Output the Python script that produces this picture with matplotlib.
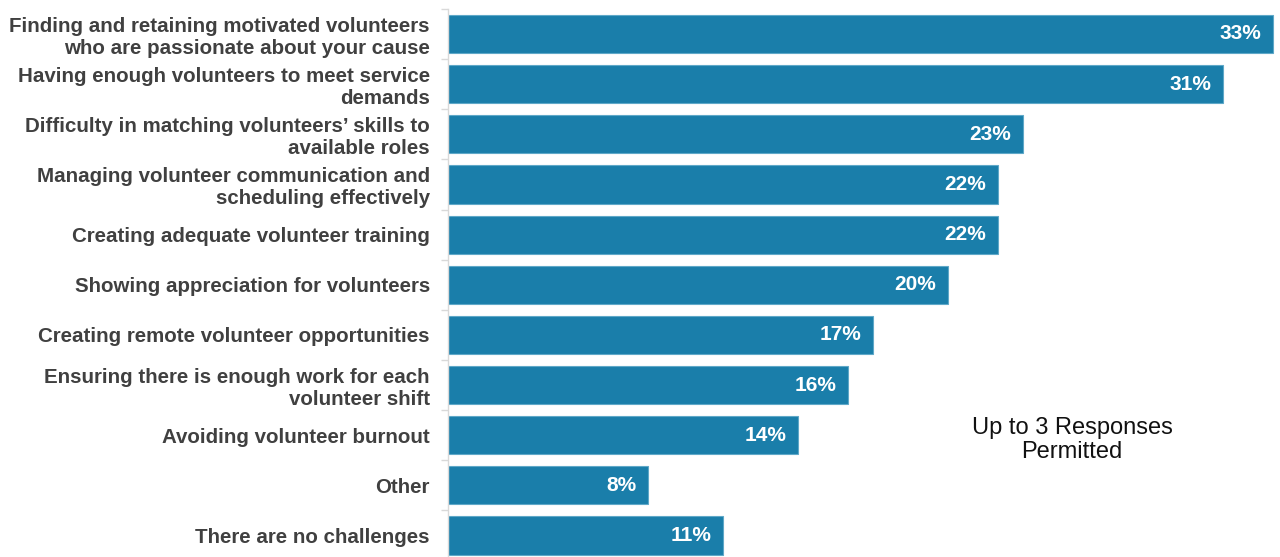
import matplotlib.pyplot as plt
import numpy as np

categories = [
    "Finding and retaining motivated volunteers\nwho are passionate about your cause",
    "Having enough volunteers to meet service\ndemands",
    "Difficulty in matching volunteers\u2019 skills to\navailable roles",
    "Managing volunteer communication and\nscheduling effectively",
    "Creating adequate volunteer training",
    "Showing appreciation for volunteers",
    "Creating remote volunteer opportunities",
    "Ensuring there is enough work for each\nvolunteer shift",
    "Avoiding volunteer burnout",
    "Other",
    "There are no challenges",
]
values = [33, 31, 23, 22, 22, 20, 17, 16, 14, 8, 11]
note = "Up to 3 Responses\nPermitted"

plt.rcParams['font.family'] = ['Liberation Sans', 'DejaVu Sans']

fig = plt.figure(figsize=(12.8, 5.57), dpi=100)
ax = fig.add_axes([448 / 1280, -0.0065, 1 - 448 / 1280, 0.9905])

bar_color = "#1A7EAA"
y = np.arange(len(categories))
ax.barh(y, values, height=0.76, color=bar_color, edgecolor="#5FA8C8", linewidth=0.8)

for yi, v in zip(y, values):
    ax.text(v - 0.45, yi, f"{v}%", ha="right", va="center", color="white",
            fontsize=15, fontweight="bold")

ax.set_ylim(len(categories) - 0.5, -0.5)
ax.set_xlim(0, 33.3)
ax.set_yticks(y)
ax.set_yticklabels(categories, fontsize=14.8, fontweight="bold", color="#404040",
                   linespacing=1.2)
ax.tick_params(axis="y", which="major", length=0, pad=13)
ax.set_yticks(np.arange(-0.5, len(categories), 1.0), minor=True)
ax.tick_params(axis="y", which="minor", length=5, color="#D9D9D9", width=1)
ax.set_xticks([])

for side in ("top", "right", "bottom"):
    ax.spines[side].set_visible(False)
ax.spines["left"].set_color("#D9D9D9")
ax.spines["left"].set_linewidth(1)

fig.text(1072 / 1280, 1 - 440 / 557, note, ha="center", va="center",
         fontsize=17, color="#111111", linespacing=1.1)

fig.savefig("out.png", dpi=100)
